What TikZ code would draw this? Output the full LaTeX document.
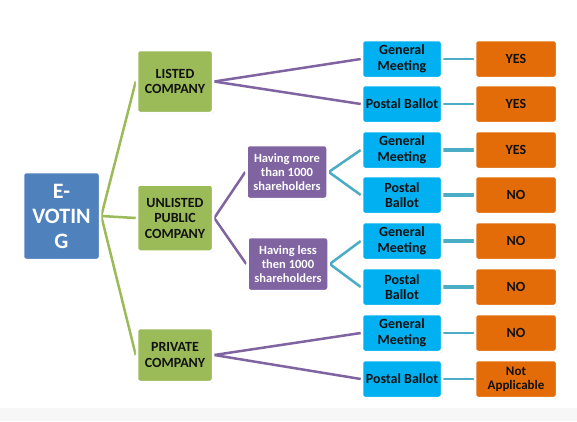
\documentclass[tikz,border=0pt]{standalone}
\usepackage{fontspec}
\setmainfont{Carlito}
\usetikzlibrary{shadows,backgrounds}
\definecolor{evblue}{HTML}{4F81BD}
\definecolor{evgreen}{HTML}{9BBB59}
\definecolor{evpurple}{HTML}{8064A2}
\definecolor{evcyan}{HTML}{00B0F0}
\definecolor{evorange}{HTML}{E36C09}
\definecolor{evteal}{HTML}{4BACC6}
\definecolor{evtext}{HTML}{111111}
\tikzset{
  box/.style={draw=white, line width=2.5pt, rounded corners=3pt, align=center,
    font=\bfseries, inner sep=1pt,
    drop shadow={shadow xshift=1pt, shadow yshift=-1.2pt, opacity=0.25}},
  rootbox/.style={box, fill=evblue, text=white, minimum width=77pt, minimum height=88pt,
    font=\bfseries\fontsize{22}{25}\selectfont},
  compbox/.style={box, fill=evgreen, text=evtext, minimum width=76pt,
    font=\bfseries\fontsize{14}{15.5}\selectfont},
  holdbox/.style={box, fill=evpurple, text=white, minimum width=81pt, minimum height=54pt,
    font=\bfseries\fontsize{12.5}{14}\selectfont},
  modebox/.style={box, fill=evcyan, text=evtext, minimum width=80pt, minimum height=38pt,
    font=\bfseries\fontsize{14}{15.5}\selectfont},
  ansbox/.style={box, fill=evorange, text=evtext, minimum width=82pt, minimum height=38pt,
    font=\bfseries\fontsize{14}{15.5}\selectfont},
  glink/.style={draw=evgreen, line width=2.5pt},
  plink/.style={draw=evpurple, line width=2.5pt},
  tlink/.style={draw=evteal, line width=2.5pt},
  tlinkw/.style={draw=evteal, line width=4pt},
}
\begin{document}
\begin{tikzpicture}[x=1pt,y=-1pt]
\useasboundingbox (0,0) rectangle (577,421);

\node[rootbox] (ev) at (61.5,216) {E-\\VOTIN\\G};

\node[compbox, minimum height=63pt] (lc) at (175,81.5) {LISTED\\COMPANY};
\node[compbox, minimum height=67pt] (uc) at (175,218) {UNLISTED\\PUBLIC\\COMPANY};
\node[compbox, minimum height=54pt] (pc) at (175,355) {PRIVATE\\COMPANY};

\node[holdbox] (hm) at (287,172) {Having more\\than 1000\\shareholders};
\node[holdbox] (hl) at (288,264) {Having less\\then 1000\\shareholders};

\node[modebox] (m1) at (402,59) {General\\Meeting};
\node[modebox] (m2) at (402,104) {Postal Ballot};
\node[modebox] (m3) at (402,150) {General\\Meeting};
\node[modebox] (m4) at (402,195) {Postal\\Ballot};
\node[modebox] (m5) at (402,241) {General\\Meeting};
\node[modebox] (m6) at (402,287) {Postal\\Ballot};
\node[modebox] (m7) at (402,333) {General\\Meeting};
\node[modebox] (m8) at (402,379) {Postal Ballot};

\node[ansbox] (a1) at (516,59) {YES};
\node[ansbox] (a2) at (516,104) {YES};
\node[ansbox] (a3) at (516,150) {YES};
\node[ansbox] (a4) at (516,195) {NO};
\node[ansbox] (a5) at (516,241) {NO};
\node[ansbox] (a6) at (516,287) {NO};
\node[ansbox] (a7) at (516,333) {NO};
\node[ansbox, font=\bfseries\fontsize{13}{14}\selectfont] (a8) at (516,379) {Not\\Applicable};

\begin{scope}[on background layer]
\fill[white] (0,0) rectangle (577,421);
\fill[black!3] (0,408) rectangle (577,421);
\draw[glink] (ev.east) -- (lc.west);
\draw[glink] (ev.east) -- (uc.west);
\draw[glink] (ev.east) -- (pc.west);
\draw[plink] (lc.east) -- (m1.west);
\draw[plink] (lc.east) -- (m2.west);
\draw[plink] (uc.east) -- (hm.west);
\draw[plink] (uc.east) -- (hl.west);
\draw[plink] (pc.east) -- (m7.west);
\draw[plink] (pc.east) -- (m8.west);
\draw[tlink] (hm.east) -- (m3.west);
\draw[tlink] (hm.east) -- (m4.west);
\draw[tlink] (hl.east) -- (m5.west);
\draw[tlink] (hl.east) -- (m6.west);
\draw[tlink] (m1.east) -- (a1.west);
\draw[tlink] (m2.east) -- (a2.west);
\draw[tlinkw] (m3.east) -- (a3.west);
\draw[tlinkw] (m4.east) -- (a4.west);
\draw[tlinkw] (m5.east) -- (a5.west);
\draw[tlinkw] (m6.east) -- (a6.west);
\draw[tlink] (m7.east) -- (a7.west);
\draw[tlink] (m8.east) -- (a8.west);
\end{scope}
\end{tikzpicture}
\end{document}
